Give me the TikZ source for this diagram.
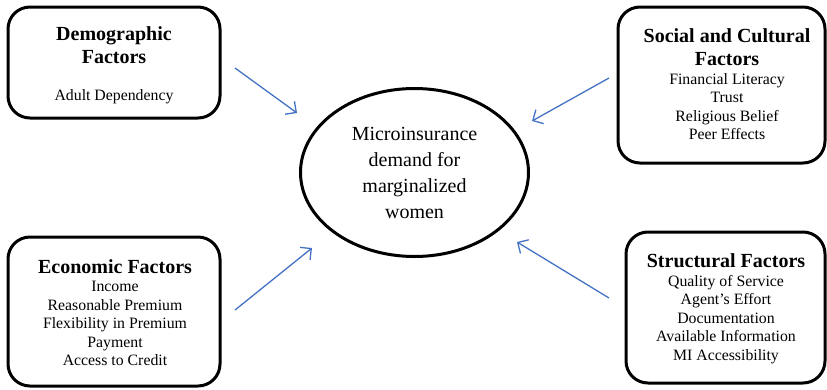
\documentclass[tikz,border=0pt]{standalone}
\usepackage{fontspec}
\setmainfont{Liberation Serif}
\usetikzlibrary{arrows.meta,shapes.geometric}
\definecolor{arrowblue}{RGB}{68,114,196}
\begin{document}
\begin{tikzpicture}[x=1pt,y=-1pt,
  factorbox/.style={draw, line width=3pt, rounded corners=22pt, inner sep=0pt},
  titletext/.style={font=\fontsize{20}{23.5}\selectfont\bfseries, align=center, anchor=north, inner sep=0pt},
  itemtext/.style={font=\fontsize{15.8}{18.5}\selectfont, align=center, anchor=north, inner sep=0pt},
  centre/.style={draw, ellipse, line width=3pt, inner sep=0pt, minimum width=228pt, minimum height=168pt,
    font=\fontsize{20}{26}\selectfont, align=center},
  flow/.style={draw=arrowblue, line width=1.3pt, -{Straight Barb[length=8pt,width=16pt,line width=1.3pt]}}]
\useasboundingbox (0,0) rectangle (827,389);

\node[factorbox, minimum width=212pt, minimum height=111pt] (demo) at (114,62.5) {};
\node[factorbox, minimum width=207pt, minimum height=156pt] (social) at (721.5,85) {};
\node[factorbox, minimum width=212pt, minimum height=149pt] (econ) at (114,311.5) {};
\node[factorbox, minimum width=199pt, minimum height=151pt] (struct) at (725.5,307.5) {};

\node[centre] (mi) at (414.5,172.5) {Microinsurance\\demand for\\marginalized\\women};

\node[titletext] (demotitle) at (114,26) {Demographic\\Factors};
\node[itemtext] (demoitems) at (114,89) {Adult Dependency};

\node[titletext] (socialtitle) at (727,28) {Social and Cultural\\Factors};
\node[itemtext] (socialitems) at (727,73) {Financial Literacy\\Trust\\Religious Belief\\Peer Effects};

\node[titletext] (econtitle) at (115,259) {Economic Factors};
\node[itemtext] (econitems) at (115,281) {Income\\Reasonable Premium\\Flexibility in Premium\\Payment\\Access to Credit};

\node[titletext] (structtitle) at (726,253) {Structural Factors};
\node[itemtext] (structitems) at (726,275) {Quality of Service\\Agent's Effort\\Documentation\\Available Information\\MI Accessibility};

\coordinate (a1s) at (235,68);  \coordinate (a1e) at (297,113);
\coordinate (a2s) at (609,78);  \coordinate (a2e) at (532,121);
\coordinate (a3s) at (235,310); \coordinate (a3e) at (312,248);
\coordinate (a4s) at (609,298); \coordinate (a4e) at (517,242);
\draw[flow] (a1s) -- (a1e);
\draw[flow] (a2s) -- (a2e);
\draw[flow] (a3s) -- (a3e);
\draw[flow] (a4s) -- (a4e);
\end{tikzpicture}
\end{document}
